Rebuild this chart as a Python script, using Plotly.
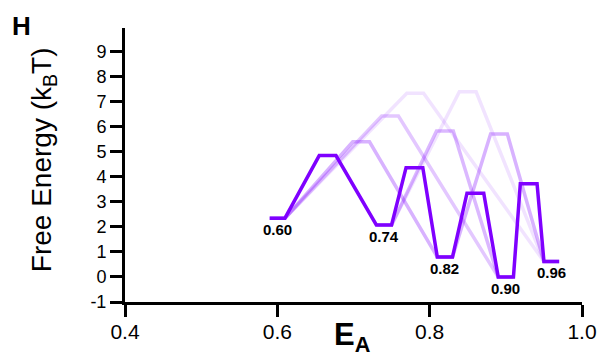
import plotly.graph_objects as go

# Data
state_labels = ["0.60", "0.74", "0.82", "0.90", "0.96"]
state_x = [0.60, 0.74, 0.82, 0.90, 0.96]
state_g = [2.35, 2.08, 0.80, 0.00, 0.62]

# main pathway: barriers between consecutive states
main_from = [0, 1, 2, 3]
main_to = [1, 2, 3, 4]
main_peak_x = [0.666, 0.780, 0.860, 0.930]
main_peak_g = [4.85, 4.37, 3.35, 3.73]

# skipping pathways (faint)
skip_from = [0, 0, 0, 1, 1, 2]
skip_to = [2, 3, 4, 3, 4, 4]
skip_peak_x = [0.710, 0.748, 0.781, 0.820, 0.850, 0.891]
skip_peak_g = [5.40, 6.43, 7.34, 5.83, 7.40, 5.71]
skip_alpha = [0.30, 0.22, 0.11, 0.28, 0.11, 0.30]

x_ticks = [0.4, 0.6, 0.8, 1.0]
y_ticks = list(range(-1, 10))

HW_STATE = 0.010
HW_PEAK = 0.011
PURPLE = "127,0,255"
FONT = "Arial, Liberation Sans"


def segment(i, j, px, pg):
    xs = [state_x[i] - HW_STATE, state_x[i] + HW_STATE, px - HW_PEAK, px + HW_PEAK,
          state_x[j] - HW_STATE, state_x[j] + HW_STATE]
    ys = [state_g[i], state_g[i], pg, pg, state_g[j], state_g[j]]
    return xs, ys


fig = go.Figure()

for i, j, px, pg, a in zip(skip_from, skip_to, skip_peak_x, skip_peak_g, skip_alpha):
    xs, ys = segment(i, j, px, pg)
    fig.add_trace(go.Scatter(x=xs, y=ys, mode="lines",
                             line=dict(color=f"rgba({PURPLE},{a})", width=3.5),
                             hoverinfo="skip", showlegend=False))

mx, my = [], []
for i, j, px, pg in zip(main_from, main_to, main_peak_x, main_peak_g):
    xs, ys = segment(i, j, px, pg)
    if mx:
        xs, ys = xs[2:], ys[2:]
    mx += xs
    my += ys
fig.add_trace(go.Scatter(x=mx, y=my, mode="lines",
                         line=dict(color=f"rgb({PURPLE})", width=3.5),
                         showlegend=False))

for lab, sx, sg in zip(state_labels, state_x, state_g):
    fig.add_annotation(x=sx, y=sg, text=f"<b>{lab}</b>", showarrow=False,
                       yanchor="top", yshift=-1,
                       font=dict(family=FONT, size=15, color="black"))

fig.add_annotation(xref="paper", yref="paper", x=-0.252, y=1.07, xanchor="left",
                   yanchor="top", text="<b>H</b>", showarrow=False,
                   font=dict(family=FONT, size=26, color="black"))

fig.add_annotation(xref="paper", yref="paper", x=0.497, y=-0.048, xanchor="center",
                   yanchor="top", text="<b>E<sub>A</sub></b>", showarrow=False,
                   font=dict(family=FONT, size=31, color="black"))

fig.add_annotation(xref="paper", yref="paper", x=-0.178, y=0.52, xanchor="center",
                   yanchor="middle", textangle=-90, text="Free Energy (k<sub>B</sub>T)",
                   showarrow=False, font=dict(family=FONT, size=28, color="black"))

fig.update_layout(
    width=602, height=360,
    margin=dict(l=125, r=20, t=28, b=58),
    plot_bgcolor="white", paper_bgcolor="white",
    font=dict(family=FONT, color="black"),
    xaxis=dict(range=[0.4, 1.0], tickvals=x_ticks, ticktext=[f"{v:.1f}" for v in x_ticks],
               showgrid=False, zeroline=False, showline=True, linecolor="black", linewidth=3,
               ticks="outside", ticklen=12, tickwidth=3, tickcolor="black",
               tickfont=dict(size=21), ticklabelstandoff=-3, automargin=False),
    yaxis=dict(range=[-1, 9.95], tickvals=y_ticks, ticktext=[str(v) for v in y_ticks],
               showgrid=False, zeroline=False, showline=True, linecolor="black", linewidth=3,
               ticks="outside", ticklen=12, tickwidth=3, tickcolor="black",
               tickfont=dict(size=18), automargin=False),
)

fig.write_html("out.html")
